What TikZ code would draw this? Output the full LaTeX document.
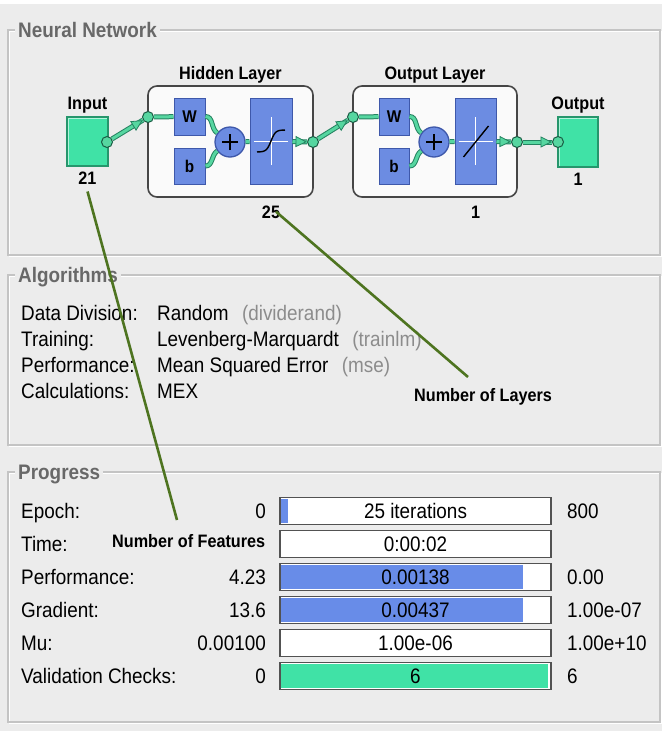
\documentclass[tikz,border=0pt]{standalone}
\usepackage{fontspec}
\setmainfont{Liberation Sans}[FakeStretch=0.9]
\usetikzlibrary{shapes.geometric,positioning}

\definecolor{panelbg}{RGB}{236,236,236}
\definecolor{framegray}{RGB}{196,196,196}
\definecolor{titlegray}{RGB}{104,104,104}
\definecolor{softgray}{RGB}{140,140,140}
\definecolor{nngreen}{RGB}{64,226,166}
\definecolor{nngreenedge}{RGB}{38,150,108}
\definecolor{linkfill}{RGB}{86,214,160}
\definecolor{linkedge}{RGB}{36,130,96}
\definecolor{nnblue}{RGB}{108,140,226}
\definecolor{nnblueedge}{RGB}{62,88,170}
\definecolor{barblue}{RGB}{104,140,232}
\definecolor{bardark}{RGB}{82,82,82}
\definecolor{annotgreen}{RGB}{78,116,32}

\newcommand\bodyfont{\fontsize{21}{24}\selectfont}
\newcommand\nnfont{\bfseries\fontsize{18}{20}\selectfont}

\tikzset{
  panelframe/.style={draw=framegray, line width=1.2pt},
  panelgleam/.style={draw=white, line width=1pt},
  paneltitle/.style={anchor=base west, fill=panelbg, inner sep=3pt, text=titlegray,
    font=\bfseries\fontsize{21}{24}\selectfont},
  body/.style={inner sep=0pt, font=\bodyfont},
  nnlabel/.style={inner sep=0pt, text height=13pt, text depth=0pt, font=\nnfont},
  annotlbl/.style={inner sep=0pt, font=\nnfont},
  iobox/.style={draw=nngreenedge, fill=nngreen, line width=1.2pt, inner sep=0pt},
  layerbox/.style={draw=gray!55!black, fill=gray!4, line width=1.6pt, rounded corners=9pt},
  bluebox/.style={draw=nnblueedge, fill=nnblue, line width=1pt, inner sep=0pt,
    font=\bfseries\fontsize{17}{18}\selectfont},
  sumnode/.style={circle, draw=nnblueedge, fill=nnblue, line width=1.3pt,
    minimum size=30pt, inner sep=0pt,
    path picture={\draw[black, line width=1.8pt]
      ([xshift=-8pt]path picture bounding box.center) -- ([xshift=8pt]path picture bounding box.center)
      ([yshift=-8pt]path picture bounding box.center) -- ([yshift=8pt]path picture bounding box.center);}},
  nnport/.style={circle, draw=linkedge!70!black, fill=linkfill, line width=1pt,
    minimum size=11pt, inner sep=0pt},
  nnlink/.style={draw=linkfill, line width=3pt, preaction={draw=linkedge, line width=5pt}},
  tiphead/.style={isosceles triangle, isosceles triangle stretches, draw=linkedge,
    fill=linkfill, line width=0.8pt, minimum width=10pt, minimum height=10pt,
    inner sep=0pt, sloped},
  progbar/.style={draw=bardark, fill=white, line width=1.4pt, minimum width=271pt,
    minimum height=27pt, inner sep=0pt, font=\bodyfont},
  barfill/.style 2 args={path picture={\fill[#1]
    ([shift={(1.2pt,-1.2pt)}]path picture bounding box.north west) rectangle
    ([shift={(#2,1.2pt)}]path picture bounding box.south west);}},
  annot/.style={draw=annotgreen, line width=2.6pt},
}

\begin{document}
\begin{tikzpicture}[x=1pt,y=-1pt]
\useasboundingbox (0,0) rectangle (662,731);
\fill[white] (0,0) rectangle (662,4);
\fill[panelbg] (0,4) rectangle (662,731);

% the three group panels, etched frames
\foreach \top/\bot/\ttl [count=\p] in {30/255/Neural Network, 275/445/Algorithms, 472/722/Progress}
{
  \draw[panelgleam] (9.2,\top+1.2) rectangle (661.2,\bot+1.2);
  \draw[panelframe] (8,\top) rectangle (660,\bot);
  \node[paneltitle] (panel\p) at (15,\top+7.5) {\ttl};
}

% network diagram
\node[layerbox, minimum width=165pt, minimum height=111pt] (hidden) at (230.5,141.5) {};
\node[layerbox, minimum width=164pt, minimum height=111pt] (outlayer) at (435,141.5) {};
\node[nnlabel, above=6pt of hidden] (hiddenlbl) {Hidden Layer};
\node[nnlabel, above=6pt of outlayer] (outlayerlbl) {Output Layer};

\node[iobox, minimum width=41pt, minimum height=49pt] (inp) at (87.5,141.5) {};
\node[iobox, minimum width=40pt, minimum height=50pt] (outp) at (578,142) {};
\draw[white, line width=0.8pt, opacity=0.6] ([shift={(1.5pt,1.5pt)}]inp.south west) |- ([shift={(-1.5pt,-1.5pt)}]inp.north east);
\draw[white, line width=0.8pt, opacity=0.6] ([shift={(1.5pt,1.5pt)}]outp.south west) |- ([shift={(-1.5pt,-1.5pt)}]outp.north east);
\node[nnlabel, above=7pt of inp] (inplbl) {Input};
\node[nnlabel, above=7pt of outp] (outplbl) {Output};
\node[nnlabel, below=4.5pt of inp] (num21) {21};
\node[nnlabel, below=4.5pt of outp] (numout) {1};

\node[bluebox, minimum width=31pt, minimum height=37pt] (hW) at (189.5,116.5) {W};
\node[bluebox, minimum width=31pt, minimum height=36pt] (hb) at (189.5,166) {b};
\node[sumnode] (hsum) at (230,142) {};
\node[bluebox, minimum width=42pt, minimum height=86pt] (hf) at (271,141) {};
\node[bluebox, minimum width=30pt, minimum height=37pt] (oW) at (394,116.5) {W};
\node[bluebox, minimum width=30pt, minimum height=36pt] (ob) at (394,166) {b};
\node[sumnode] (osum) at (434,142) {};
\node[bluebox, minimum width=41pt, minimum height=86pt] (of) at (475.5,141) {};
\node[nnlabel, below=20.5pt of hf] (num25) {25};
\node[nnlabel, below=20.5pt of of] (num1) {1};

% transfer function glyphs
\draw[white, line width=0.7pt] ([xshift=-17pt]hf.center) -- ([xshift=17pt]hf.center)
  ([yshift=-24pt]hf.center) -- ([yshift=24pt]hf.center);
\draw[black, line width=1.4pt, shift={(hf.center)}]
  plot[domain=-14:14, samples=40] (\x,{-11*tanh(\x/4.5)});
\draw[white, line width=0.7pt] ([xshift=-17pt]of.center) -- ([xshift=17pt]of.center)
  ([yshift=-24pt]of.center) -- ([yshift=24pt]of.center);
\draw[black, line width=1.4pt, shift={(of.center)}] (-12,16) -- (13,-15);

% ports
\node[nnport] (pin) at (107,142) {};
\node[nnport] (hin) at (148,117) {};
\node[nnport] (hout) at (313,142) {};
\node[nnport] (oin) at (353,117) {};
\node[nnport] (oout) at (517,142) {};
\node[nnport] (pout) at (558,142) {};

% signal flow
\draw[nnlink] (pin) -- node[tiphead, pos=1, anchor=apex] {} (hin);
\draw[nnlink] (hin) -- (hW);
\draw[nnlink] (hW.east) to[out=0, in=145] (hsum.145);
\draw[nnlink] (hb.east) to[out=0, in=-145] (hsum.-145);
\draw[nnlink] (hsum) -- (hf);
\draw[nnlink] (hf) -- node[tiphead, pos=1, anchor=apex] {} (hout);
\draw[nnlink] (hout) -- node[tiphead, pos=1, anchor=apex] {} (oin);
\draw[nnlink] (oin) -- (oW);
\draw[nnlink] (oW.east) to[out=0, in=145] (osum.145);
\draw[nnlink] (ob.east) to[out=0, in=-145] (osum.-145);
\draw[nnlink] (osum) -- (of);
\draw[nnlink] (of) -- node[tiphead, pos=1, anchor=apex] {} (oout);
\draw[nnlink] (oout) -- node[tiphead, pos=1, anchor=apex] {} (pout);

% algorithms
\foreach \lbl/\val/\fn [count=\i from 0] in {Data Division:/Random/(dividerand),
    Training:/Levenberg-Marquardt/(trainlm), Performance:/Mean Squared Error/(mse),
    Calculations:/MEX/}
{
  \pgfmathsetmacro\rowy{320+26*\i}
  \node[body, anchor=base west] (alg\i) at (21,\rowy) {\lbl};
  \node[body, anchor=base west] (aval\i) at (157,\rowy) {\val};
  \node[body, anchor=base west, text=softgray] (afn\i) at ([xshift=13pt]aval\i.base east) {\fn};
}

% progress
\foreach \lbl/\lo/\txt/\hi/\fw/\fc [count=\i from 0] in {
    Epoch:/0/25 iterations/800/8pt/barblue,
    Time://0:00:02//0pt/white,
    Performance:/4.23/0.00138/0.00/243pt/barblue,
    Gradient:/13.6/0.00437/1.00e-07/243pt/barblue,
    Mu:/0.00100/1.00e-06/1.00e+10/0pt/white,
    Validation Checks:/0/6/6/268pt/nngreen}
{
  \pgfmathsetmacro\rowy{511+33*\i}
  \node[body, anchor=base west] (plbl\i) at (21,\rowy+7) {\lbl};
  \node[body, anchor=base east] (plo\i) at (266,\rowy+7) {\lo};
  \node[progbar, barfill={\fc}{\fw}] (pbar\i) at (415.5,\rowy) {\txt};
  \node[body, anchor=base west] (phi\i) at (567,\rowy+7) {\hi};
}

% annotations
\node[annotlbl, anchor=base west] (featlbl) at (112,547) {Number of Features};
\node[annotlbl, anchor=base west] (laylbl) at (414,401) {Number of Layers};
\coordinate (featend) at (177,520);
\coordinate (layend) at (468,377);
\draw[annot] ([yshift=-7pt]num21.south) -- (featend);
\draw[annot] ([xshift=5pt]num25.center) -- (layend);
\end{tikzpicture}
\end{document}
